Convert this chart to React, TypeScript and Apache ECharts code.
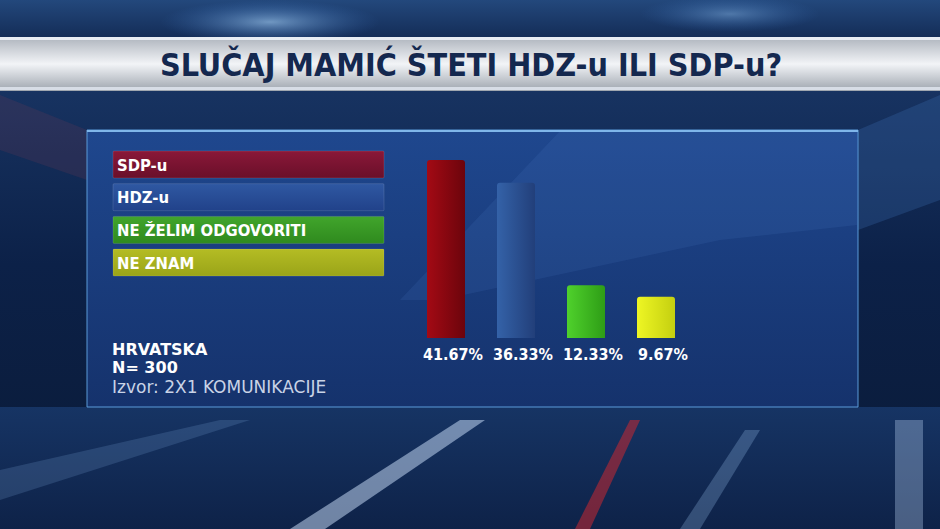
import React, { useEffect, useRef } from "react";
import * as echarts from "echarts";

const categories = ["SDP-u", "HDZ-u", "NE ŽELIM ODGOVORITI", "NE ZNAM"];
const values = [41.67, 36.33, 12.33, 9.67];
const valueLabels = ["41.67%", "36.33%", "12.33%", "9.67%"];
const title = "SLUČAJ MAMIĆ ŠTETI HDZ-u ILI SDP-u?";
const footLines = ["HRVATSKA", "N= 300", "Izvor: 2X1 KOMUNIKACIJE"];

const barColors: [string, string][] = [
  ["#a30a14", "#6c040c"],
  ["#3462a8", "#223f7a"],
  ["#4fd12c", "#2e9d16"],
  ["#eef624", "#c4cf10"],
];
const legendColors: [string, string][] = [
  ["#8a1838", "#6a0f2a"],
  ["#2f58a2", "#21428a"],
  ["#41a52c", "#2f8a1e"],
  ["#b4bc24", "#9aa418"],
];

const FONT = "'DejaVu Sans Condensed', 'DejaVu Sans', sans-serif";
const FONT_WIDE = "'DejaVu Sans', sans-serif";

export default function App() {
  const ref = useRef<HTMLDivElement>(null);
  useEffect(() => {
    if (!ref.current) return;
    const chart = echarts.init(ref.current, undefined, { renderer: "svg" });
    const lin = (x2: number, y2: number, c0: string, c1: string, mid?: string) =>
      new echarts.graphic.LinearGradient(0, 0, x2, y2,
        mid
          ? [{ offset: 0, color: c0 }, { offset: 0.5, color: mid }, { offset: 1, color: c1 }]
          : [{ offset: 0, color: c0 }, { offset: 1, color: c1 }]);
    const rad = (c: string) =>
      new echarts.graphic.RadialGradient(0.5, 0.5, 0.5, [
        { offset: 0, color: c },
        { offset: 1, color: "rgba(60,120,200,0)" },
      ]);

    const legendEls: any[] = categories.map((c, i) => ({
      type: "group",
      x: 113,
      y: 151 + i * 32.7,
      z: 5,
      children: [
        {
          type: "rect",
          shape: { x: 0, y: 0, width: 271, height: 27, r: 1 },
          style: { fill: lin(0, 1, legendColors[i][0], legendColors[i][1]), stroke: "rgba(255,255,255,0.12)", lineWidth: 1 },
        },
        {
          type: "text",
          x: 4,
          y: 14,
          style: { text: c, fill: "#ffffff", font: `bold 16.5px ${FONT}`, textVerticalAlign: "middle", textBaseline: "middle" },
        },
      ],
    }));

    const footEls: any[] = footLines.map((t, i) => ({
      type: "text",
      x: 112,
      y: 349 + i * 18.5 + (i === 2 ? 0.5 : 0),
      z: 5,
      style: {
        text: t,
        fill: i === 2 ? "#c9d3e6" : "#ffffff",
        font: `${i === 2 ? "normal" : "bold"} ${i === 2 ? 17 : 16}px ${FONT_WIDE}`,
        textBaseline: "middle",
        textVerticalAlign: "middle",
      },
    }));

    chart.setOption({
      animation: false,
      backgroundColor: "#0c1f42",
      grid: { left: 411, width: 280, top: 124.5, bottom: 191, containLabel: false },
      xAxis: {
        type: "category",
        data: categories,
        show: false,
      },
      yAxis: { type: "value", min: 0, max: 50, show: false, splitLine: { show: false } },
      graphic: {
        elements: [
          // background
          { type: "rect", z: -10, shape: { x: 0, y: 0, width: 940, height: 529 }, style: { fill: lin(0, 1, "#1d3c6e", "#0a1a36", "#0c2148") } },
          { type: "rect", z: -9, shape: { x: 0, y: 0, width: 940, height: 40 }, style: { fill: lin(0, 1, "#23487c", "#132b55") } },
          { type: "ellipse", z: -9, shape: { cx: 270, cy: 22, rx: 110, ry: 22 }, style: { fill: rad("rgba(170,215,255,0.6)") } },
          { type: "ellipse", z: -9, shape: { cx: 730, cy: 14, rx: 90, ry: 18 }, style: { fill: rad("rgba(140,190,240,0.45)") } },
          { type: "rect", z: -9, shape: { x: 0, y: 407, width: 940, height: 122 }, style: { fill: lin(0, 1, "#163464", "#0e2248") } },
          { type: "polygon", z: -8, shape: { points: [[290, 529], [325, 529], [485, 420], [460, 420]] }, style: { fill: "rgba(210,230,255,0.5)" } },
          { type: "polygon", z: -8, shape: { points: [[0, 470], [0, 500], [250, 420], [220, 420]] }, style: { fill: "rgba(120,160,210,0.22)" } },
          { type: "polygon", z: -8, shape: { points: [[575, 529], [590, 529], [640, 420], [630, 420]] }, style: { fill: "rgba(200,40,50,0.55)" } },
          { type: "polygon", z: -8, shape: { points: [[680, 529], [700, 529], [760, 430], [745, 430]] }, style: { fill: "rgba(150,190,235,0.28)" } },
          { type: "rect", z: -8, shape: { x: 895, y: 420, width: 28, height: 109 }, style: { fill: "rgba(200,225,255,0.32)" } },
          { type: "polygon", z: -8, shape: { points: [[0, 95], [0, 150], [87, 180], [87, 130]] }, style: { fill: "rgba(150,60,80,0.16)" } },
          { type: "polygon", z: -8, shape: { points: [[858, 130], [940, 95], [940, 200], [858, 230]] }, style: { fill: "rgba(60,110,180,0.28)" } },
          // title band
          { type: "rect", z: -5, shape: { x: 0, y: 37, width: 940, height: 54 }, style: { fill: lin(0, 1, "#aeb4bd", "#9ea5ae", "#f2f4f7") } },
          { type: "rect", z: -4, shape: { x: 0, y: 37, width: 940, height: 3 }, style: { fill: "#e8edf4" } },
          { type: "rect", z: -4, shape: { x: 0, y: 87, width: 940, height: 3 }, style: { fill: "#d7dde6" } },
          {
            type: "text", z: 6, x: 471, y: 65,
            style: { text: title, fill: "#14284f", font: `bold 32px ${FONT}`, textAlign: "center", textVerticalAlign: "middle", textBaseline: "middle" },
          },
          // panel
          {
            type: "rect", z: -3, shape: { x: 87, y: 130, width: 771, height: 277 },
            style: { fill: lin(0, 1, "rgba(32,74,148,0.9)", "rgba(22,52,112,0.92)"), stroke: "#5b9ad8", lineWidth: 1 },
          },
          { type: "polygon", z: -2, shape: { points: [[560, 131], [857, 131], [857, 225], [720, 240], [440, 300], [400, 300]] }, style: { fill: "rgba(90,140,210,0.12)" } },
          { type: "rect", z: -2, shape: { x: 87, y: 130, width: 771, height: 2 }, style: { fill: "#7fb6ea" } },
          ...legendEls,
          ...footEls,
        ],
      },
      series: [
        {
          type: "bar",
          barWidth: 38,
          data: values.map((v, i) => ({
            value: v,
            itemStyle: {
              color: lin(1, 0, barColors[i][0], barColors[i][1]),
              borderRadius: [3, 3, 0, 0],
            },
          })),
          label: {
            show: true,
            position: "bottom",
            distance: 8,
            offset: [7, 0],
            formatter: (p: any) => valueLabels[p.dataIndex],
            color: "#ffffff",
            fontFamily: FONT,
            fontWeight: "bold",
            fontSize: 16,
          },
        },
      ],
    });
    return () => chart.dispose();
  }, []);
  return <div ref={ref} style={{ width: 940, height: 529, position: "absolute", left: 0, top: 0 }} />;
}
